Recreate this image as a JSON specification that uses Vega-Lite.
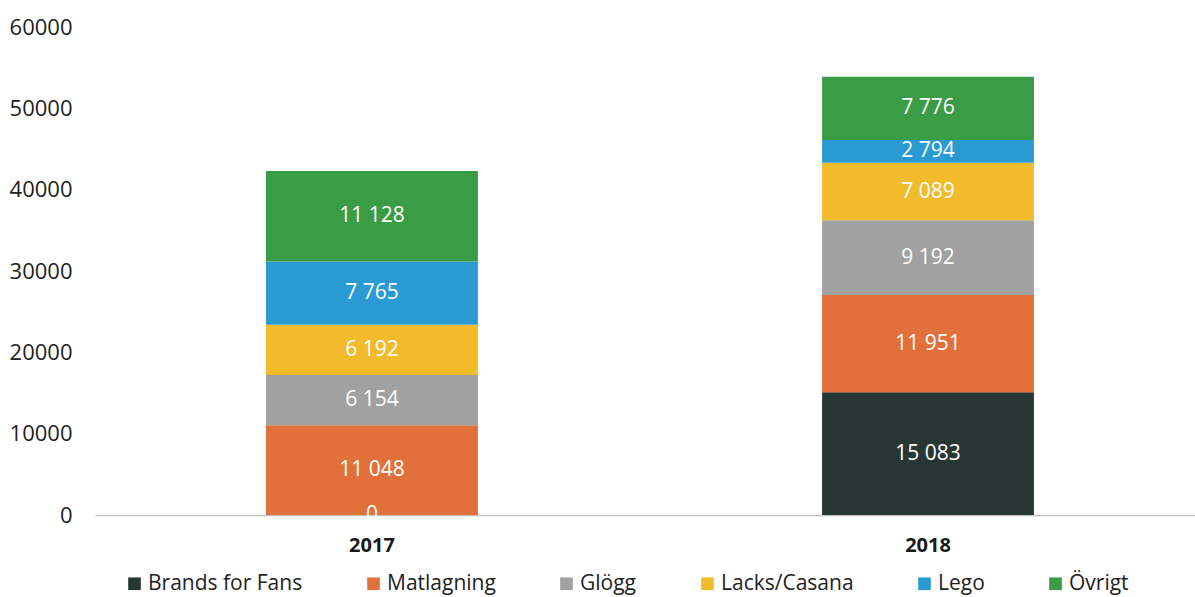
{
  "$schema": "https://vega.github.io/schema/vega-lite/v6.json",
  "width": 1100,
  "height": 488,
  "autosize": {"type": "none"},
  "padding": {"left": 95, "top": 27, "right": 0, "bottom": 82},
  "background": "white",
  "config": {
    "view": {"stroke": null},
    "font": "Open Sans",
    "locale": {"number": {"decimal": ",", "thousands": " ", "grouping": [3], "currency": ["", " kr"]}}
  },
  "data": {
    "values": [
      {"year": "2017", "category": "Brands for Fans", "rank": 1, "value": 0},
      {"year": "2017", "category": "Matlagning", "rank": 2, "value": 11048},
      {"year": "2017", "category": "Glögg", "rank": 3, "value": 6154},
      {"year": "2017", "category": "Lacks/Casana", "rank": 4, "value": 6192},
      {"year": "2017", "category": "Lego", "rank": 5, "value": 7765},
      {"year": "2017", "category": "Övrigt", "rank": 6, "value": 11128},
      {"year": "2018", "category": "Brands for Fans", "rank": 1, "value": 15083},
      {"year": "2018", "category": "Matlagning", "rank": 2, "value": 11951},
      {"year": "2018", "category": "Glögg", "rank": 3, "value": 9192},
      {"year": "2018", "category": "Lacks/Casana", "rank": 4, "value": 7089},
      {"year": "2018", "category": "Lego", "rank": 5, "value": 2794},
      {"year": "2018", "category": "Övrigt", "rank": 6, "value": 7776}
    ]
  },
  "encoding": {
    "x": {
      "field": "year",
      "type": "nominal",
      "scale": {"paddingInner": 0.619, "paddingOuter": 0.2986, "align": 0.515},
      "axis": {
        "title": null,
        "labelAngle": 0,
        "labelFontSize": 20,
        "labelFontWeight": "bold",
        "labelColor": "#1a1a1a",
        "labelPadding": 20,
        "ticks": false,
        "tickSize": 0,
        "domainColor": "#c4c4c4",
        "domainWidth": 1.5
      }
    },
    "y": {
      "field": "value",
      "type": "quantitative",
      "stack": "zero",
      "scale": {"domain": [0, 60000], "nice": false},
      "axis": {
        "title": null,
        "values": [0, 10000, 20000, 30000, 40000, 50000, 60000],
        "format": "d",
        "grid": false,
        "domain": false,
        "ticks": false,
        "tickSize": 0,
        "labelPadding": 23,
        "labelFontSize": 22,
        "labelColor": "#222222"
      }
    },
    "order": {"field": "rank", "type": "quantitative", "sort": "ascending"}
  },
  "layer": [
    {
      "mark": {"type": "bar"},
      "encoding": {
        "color": {
          "field": "category",
          "type": "nominal",
          "sort": ["Brands for Fans", "Matlagning", "Glögg", "Lacks/Casana", "Lego", "Övrigt"],
          "scale": {
            "domain": ["Brands for Fans", "Matlagning", "Glögg", "Lacks/Casana", "Lego", "Övrigt"],
            "range": ["#283634", "#e2703a", "#a1a1a1", "#f1bb2c", "#2a9ad3", "#3a9c45"]
          },
          "legend": {
            "title": null,
            "orient": "none",
            "direction": "horizontal",
            "legendX": 29,
            "legendY": 546,
            "symbolType": "square",
            "symbolSize": 160,
            "symbolStrokeWidth": 0,
            "labelFontSize": 21,
            "labelColor": "#222222",
            "labelOffset": 3,
            "columnPadding": 60
          }
        }
      }
    },
    {
      "mark": {"type": "text", "color": "white", "fontSize": 21, "baseline": "middle", "align": "center"},
      "encoding": {
        "y": {"field": "value", "type": "quantitative", "stack": "zero", "bandPosition": 0.5},
        "detail": {"field": "category", "type": "nominal"},
        "text": {"field": "value", "type": "quantitative", "format": ",d"}
      }
    }
  ]
}
